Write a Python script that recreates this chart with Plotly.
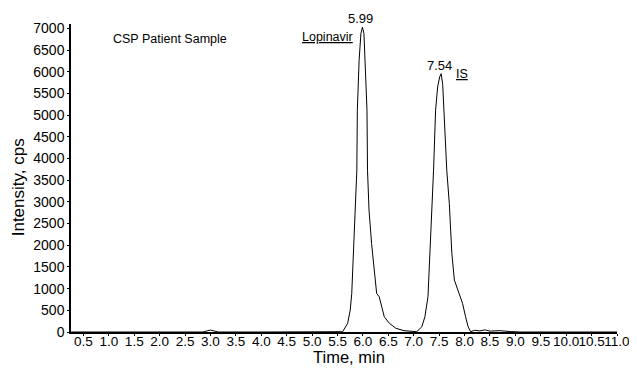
import plotly.graph_objects as go

# Chromatogram trace (time in min, intensity in cps)
time_min = [0.26, 1.0, 2.0, 2.85, 2.95, 3.0, 3.05, 3.15, 4.0, 5.0, 5.5, 5.60,
            5.70, 5.75, 5.78, 5.81, 5.85, 5.88, 5.89, 5.925, 5.96, 5.99,
            6.02, 6.04, 6.08, 6.09, 6.12, 6.17, 6.22, 6.27, 6.32, 6.35, 6.42,
            6.52, 6.65, 6.81, 7.00,
            7.06, 7.16, 7.22, 7.28, 7.32, 7.35, 7.39, 7.43, 7.47, 7.51, 7.54,
            7.57, 7.60, 7.65, 7.70, 7.75, 7.80, 7.85, 7.90, 7.96, 8.02,
            8.07, 8.12, 8.2, 8.3, 8.4, 8.5, 8.7, 8.9, 9.1, 10.0, 11.0]
intensity = [0, 0, 0, 0, 30, 45, 30, 0, 0, 0, 0, 7,
             200, 506, 890, 1812, 2963, 3730, 5112, 6263, 6878, 7030,
             6878, 6263, 5112, 3730, 2809, 2042, 1504, 890, 813, 661, 352,
             200, 85, 30, 7,
             7, 122, 352, 813, 1812, 2809, 3730, 5112, 5648, 5878, 5956,
             5700, 5000, 3730, 2963, 1812, 1197, 1043, 890, 661, 352,
             122, 7, 40, 25, 50, 20, 30, 10, 0, 0, 0]

x_tick_vals = [0.5, 1.0, 1.5, 2.0, 2.5, 3.0, 3.5, 4.0, 4.5, 5.0, 5.5, 6.0,
               6.5, 7.0, 7.5, 8.0, 8.5, 9.0, 9.5, 10.0, 10.5, 11.0]
x_tick_text = ["0.5", "1.0", "1.5", "2.0", "2.5", "3.0", "3.5", "4.0", "4.5",
               "5.0", "5.5", "6.0", "6.5", "7.0", "7.5", "8.0", "8.5", "9.0",
               "9.5", "10.0", "10.5", "11.0"]
y_tick_vals = [0, 500, 1000, 1500, 2000, 2500, 3000, 3500, 4000, 4500, 5000,
               5500, 6000, 6500, 7000]

peak_times = [5.99, 7.54]
peak_heights = [7030, 5956]
peak_labels = ["5.99", "7.54"]

FONT = "Liberation Sans, Arial, sans-serif"

fig = go.Figure()
fig.add_trace(go.Scatter(x=time_min, y=intensity, mode="lines",
                         line=dict(color="black", width=1), hoverinfo="skip",
                         showlegend=False))

for t, h, lab in zip(peak_times, peak_heights, peak_labels):
    fig.add_annotation(x=t, y=h, text=lab, showarrow=False, xanchor="center",
                       yanchor="bottom", yshift=-1, xshift=-2,
                       font=dict(family=FONT, size=13, color="black"))

fig.add_annotation(x=0.181, y=0.951, xref="paper", yref="paper", text="CSP Patient Sample",
                   showarrow=False, xanchor="center", yanchor="middle",
                   font=dict(family=FONT, size=12.5, color="black"))
fig.add_annotation(x=5.3, y=6800, text="<u>Lopinavir</u>", showarrow=False,
                   xanchor="center", yanchor="middle",
                   font=dict(family=FONT, size=12.5, color="black"))
fig.add_annotation(x=7.95, y=5950, text="<u>IS</u>", showarrow=False,
                   xanchor="center", yanchor="middle",
                   font=dict(family=FONT, size=12.5, color="black"))

# axis titles
fig.add_annotation(x=-0.097, y=0.47, xref="paper", yref="paper", text="Intensity, cps",
                   textangle=-90, showarrow=False, xanchor="center", yanchor="middle",
                   font=dict(family=FONT, size=17, color="black"))
fig.add_annotation(x=0.51, y=-0.081, xref="paper", yref="paper", text="Time, min",
                   showarrow=False, xanchor="center", yanchor="middle",
                   font=dict(family=FONT, size=16.5, color="black"))

# the page adds an 8px body margin, so the margins below compensate for it
fig.update_layout(
    width=637, height=368,
    margin=dict(l=63, r=28, t=16, b=44),
    paper_bgcolor="white", plot_bgcolor="white",
    xaxis=dict(range=[0.255, 11.0], tickmode="array", tickvals=x_tick_vals,
               ticktext=x_tick_text, tickangle=0, showgrid=False, zeroline=False,
               showline=True, linecolor="black", linewidth=1.5,
               ticks="outside", ticklen=2, tickcolor="black",
               ticklabelstandoff=-6,
               tickfont=dict(family=FONT, size=13.5, color="black")),
    yaxis=dict(range=[0, 7100], tickmode="array", tickvals=y_tick_vals,
               showgrid=False, zeroline=False, showline=True, linecolor="black",
               linewidth=1.5, ticks="outside", ticklen=2, tickcolor="black",
               tickfont=dict(family=FONT, size=14, color="black")),
)

fig.write_html("out.html")
